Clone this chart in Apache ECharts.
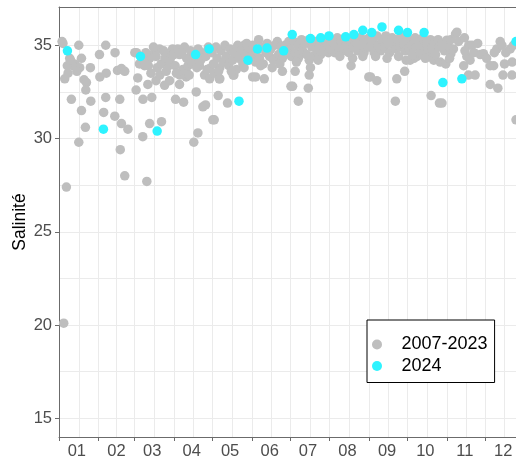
<!DOCTYPE html>
<html>
<head>
<meta charset="utf-8">
<script src="https://cdn.jsdelivr.net/npm/echarts@6/dist/echarts.min.js"></script>
<style>
html,body{margin:0;padding:0;background:#fff;}
#chart{width:516px;height:462px;}
</style>
</head>
<body>
<div id="chart"></div>
<script>
// x = day of year (0 = 1 January), y = salinity
const monthLabels = ['01','02','03','04','05','06','07','08','09','10','11','12'];
const monthStarts = [0,31,59,90,120,151,181,212,243,273,304,334];
const labelDays = [14,45,73,104,134,165,195,226,257,287,318,348];
const yTicks = [15,20,25,30,35];
const yGrid = [15,17.5,20,22.5,25,27.5,30,32.5,35];
const xGrid = [0,15.5,31,45,59,74.5,90,105,120,135.5,151,166,181,196.5,212,227.5,243,258,273,288.5,304,319,334,349];

const histJan = [[2.4,35.2],[3.1,35.1],[15.5,35.0],[8.4,34.3],[17.6,34.3],[12.3,34.0],[11,33.9],[16.2,33.8],[24.6,33.8],[7.1,33.5],[4.5,33.2],[19.6,33.15],[21.5,33.0],[21,32.6],[9.7,32.1],[24.9,32.0],[17.6,31.5],[20.7,30.6],[15.5,29.8],[5.8,27.4],[3.7,20.1],[6.5,33.9],[14,33.6],[9,34.2]];
const histFeb = [[31.7,34.5],[36.6,35.0],[43.9,34.6],[32,33.3],[37,33.5],[45.8,33.65],[48.9,33.75],[51.5,33.6],[36.6,32.2],[47.6,32.1],[35,31.4],[43.7,31.2],[48.9,30.8],[54,30.5],[48,29.4],[51.5,28.0]];
const histMar = [[60.7,34.6],[59.4,34.6],[61.7,33.25],[60.4,32.6],[65.8,32.1],[65.6,30.1],[68.8,27.7],[71,30.8],[80.3,30.9],[72.7,32.2],[69.6,32.9],[76,33.1],[82.7,32.85],[86.6,33.1],[67,33.9],[73.7,34.5],[78.7,34.8],[89,34.8],[71,34.3],[84,34.5],[85,34.1],
  [63,34.0],[66,34.2],[68,34.6],[70,33.9],[74,34.9],[76,34.4],[77,33.8],[80,34.0],[82,34.7],[83,34.3],[86,33.9],[88,34.4],[72,33.5],[79,33.4],[84,33.6],[87,34.1]];
const histApr = [[94.4,34.5],[98.3,34.9],[105,34.1],[110,33.9],[118,33.75],[94.4,32.9],[99.6,33.3],[99.6,33.6],[91.3,32.1],[97.6,31.95],[107.5,32.5],[112.7,31.7],[114.8,31.8],[120.5,31.0],[108.8,30.3],[105.6,29.8],[94.7,33.4],[114,33.4],[118,33.2],
  [90,34.5],[91,33.9],[93,34.8],[96,34.6],[97,33.7],[100,34.3],[101,33.9],[103,34.7],[104,34.0],[106,34.5],[108,33.8],[109,34.8],[111,34.2],[112,34.6],[115,34.4],[117,34.9],[92,33.5],[102,33.4],[116,33.7]];
const histMay = [[121.6,33.5],[125.5,33.2],[137,33.4],[124.7,32.3],[132,31.9],[121.6,31.0],[126,33.2],[136.5,33.4],[145,35.0],
  [120,34.6],[121,34.0],[123,34.9],[124,34.3],[126,33.8],[127,34.7],[129,34.1],[130,35.0],[131,34.4],[133,33.9],[134,34.8],[136,34.2],[137,34.6],[139,33.7],[140,35.0],[141,34.3],[143,34.7],[144,34.0],[146,34.5],[147,35.1],[149,34.2],[150,34.8],[125,33.6],[135,33.6],[145,33.8]];
const histJun = [[151.7,33.3],[154,33.3],[160.8,33.2],[175,33.6],[156.4,35.3],[171,35.2],
  [151,34.4],[152,35.0],[154,34.1],[155,34.7],[157,34.3],[159,34.9],[160,34.0],[162,34.6],[163,35.1],[165,34.4],[166,34.8],[168,34.2],[169,35.0],[172,34.5],[174,34.9],[175,34.3],[177,35.0],[178,34.6],[180,35.2],[158,33.9],[167,33.8],[173,34.0]];
const histJul = [[181.7,32.8],[183,32.8],[187.5,34.3],[197,33.8],[196,33.4],[195.3,32.7],[187.5,32.0],[185,33.6],[196,34.2],
  [181,34.8],[182,34.4],[184,35.2],[185,34.6],[187,35.0],[188,34.5],[190,35.3],[191,34.7],[193,35.1],[194,34.5],[196,35.3],[198,34.9],[199,34.4],[201,35.2],[202,34.7],[204,35.0],[205,34.5],[207,35.3],[208,34.8],[210,35.1],[211,34.6],[186,34.1],[203,34.2]];
const histAug = [[228.8,33.9],[242.7,33.3],[230,34.3],
  [212,35.3],[213,34.8],[215,35.1],[216,34.6],[218,35.4],[219,34.9],[221,35.2],[222,34.7],[224,35.4],[225,35.0],[227,34.6],[228,35.3],[230,34.9],[231,35.5],[233,35.1],[234,34.7],[236,35.4],[237,35.0],[239,34.6],[240,35.3],[242,34.9],[220,34.4],[238,34.4]];
const histSep = [[249,33.1],[264.6,33.2],[270.8,33.6],[263.5,32.0],[244,33.3],
  [243,35.4],[244,34.9],[246,35.2],[247,34.6],[249,35.5],[250,35.0],[252,34.7],[253,35.3],[255,34.9],[256,35.5],[258,35.1],[259,34.6],[261,35.4],[262,35.0],[264,34.8],[265,35.3],[267,34.9],[268,35.5],[270,35.1],[271,34.7],[248,34.4],[257,34.3],[266,34.4],[272,34.2]];
const histOct = [[275,34.2],[280.5,34.4],[278,34.3],[293.6,34.2],[293,34.3],[291.5,32.3],[298,31.9],[300,31.9],[298.6,34.1],[303,34.0],
  [273,35.3],[274,34.8],[276,35.0],[277,34.5],[279,35.4],[280,34.9],[282,35.2],[283,34.6],[285,35.4],[286,34.9],[288,35.1],[289,34.6],[291,35.3],[292,34.8],[294,35.1],[295,34.5],[297,35.3],[298,34.9],[300,35.1],[302,34.7],[287,34.3]];
const histNov = [[303.8,35.27],[305.4,34.9],[307,35.3],[309,34.8],[310.6,35.6],[311.7,35.7],[313,35.2],[317.6,35.4],[307,34.55],[306,34.3],[317,33.9],[319.5,34.4],[322,34.2],[321,35.0],[323.5,35.0],[325,34.6],[320.8,33.4],[326,33.4],[328,35.1],[330,34.5],[332.5,34.55],[318,34.7]];
const histDec = [[335,34.3],[337.8,33.9],[340.5,33.9],[343,34.8],[345.6,35.2],[347,35.0],[347.8,33.4],[354.8,33.4],[350,34.6],[353.5,34.8],[355,34.1],[337.8,32.9],[343.8,32.7],[358,31.0],[341,34.6],[349,34.0],[356,35.0]];

const points2024 = [[6.6,34.7],[34.8,30.5],[63.8,34.4],[76.9,30.4],[107,34.5],[117.6,34.8],[141,32.0],[148,34.2],[155.5,34.8],[163,34.85],[176,34.7],[182.7,35.57],[197,35.36],[205,35.4],[211.5,35.5],[224.6,35.45],[231,35.57],[238,35.8],[245,35.68],[253,35.98],[266,35.8],[273,35.68],[286,35.68],[300.7,33.0],[315.6,33.2],[358,35.2]];

const hist = [].concat(histJan,histFeb,histMar,histApr,histMay,histJun,histJul,histAug,histSep,histOct,histNov,histDec);

const chart = echarts.init(document.getElementById('chart'), null, {renderer:'canvas'});
const FONT = '"Liberation Sans", Arial, sans-serif';
const gridColor = '#ebebeb';
const axisColor = '#6b6b6b';
chart.setOption({
  animation: false,
  backgroundColor: '#ffffff',
  textStyle: {fontFamily: FONT},
  grid: {left: 59, top: 7, right: 0, bottom: 25, containLabel: false, outerBoundsMode: 'none'},
  xAxis: [
    {
      type: 'value', min: 0, max: 358, position: 'bottom',
      axisLine: {show: true, onZero: false, lineStyle: {color: axisColor, width: 1}},
      axisTick: {show: true, length: 4, lineStyle: {color: axisColor}, customValues: monthStarts},
      axisLabel: {customValues: labelDays, margin: 6, fontSize: 16.5, color: '#4d4d4d', fontFamily: FONT,
        formatter: function (v) { const i = labelDays.indexOf(v); return i >= 0 ? monthLabels[i] : ''; }},
      splitLine: {show: false}
    },
    {
      type: 'value', min: 0, max: 358, position: 'top',
      axisLine: {show: true, onZero: false, lineStyle: {color: axisColor, width: 1}},
      axisTick: {show: false, customValues: xGrid},
      axisLabel: {show: false, customValues: xGrid},
      splitLine: {show: true, lineStyle: {color: gridColor, width: 1}}
    }
  ],
  yAxis: [
    {
      type: 'value', min: 14.0, max: 37.05, position: 'left',
      name: 'Salinité', nameLocation: 'middle', nameGap: 30, nameRotate: 90, nameMoveOverlap: false,
      nameTextStyle: {fontSize: 17.5, color: '#000', fontFamily: FONT},
      axisLine: {show: true, onZero: false, lineStyle: {color: axisColor, width: 1}},
      axisTick: {show: true, length: 4, lineStyle: {color: axisColor}, customValues: yTicks},
      axisLabel: {customValues: yTicks, margin: 7, fontSize: 16.5, color: '#4d4d4d', fontFamily: FONT},
      splitLine: {show: false}
    },
    {
      type: 'value', min: 14.0, max: 37.05, position: 'right',
      axisLine: {show: false},
      axisTick: {show: false, customValues: yGrid},
      axisLabel: {show: false, customValues: yGrid},
      splitLine: {show: true, lineStyle: {color: gridColor, width: 1}}
    }
  ],
  legend: {
    orient: 'vertical', left: 367, top: 320,
    backgroundColor: '#ffffff', borderColor: '#000000', borderWidth: 1, borderRadius: 0,
    padding: [14, 7, 6, 5], itemGap: 0.5, itemWidth: 25, itemHeight: 10,
    textStyle: {fontSize: 18, color: '#000', fontFamily: FONT, lineHeight: 21, padding: [0, 0, 0, 7]},
    data: [{name: '2007-2023', icon: 'circle'}, {name: '2024', icon: 'circle'}]
  },
  series: [
    {name: '2007-2023', type: 'scatter', xAxisIndex: 0, yAxisIndex: 0, data: hist, symbolSize: 9.5,
      itemStyle: {color: '#bebebe', opacity: 1}, silent: true, z: 2},
    {name: '2024', type: 'scatter', xAxisIndex: 0, yAxisIndex: 0, data: points2024, symbolSize: 9.5,
      itemStyle: {color: '#2ef3ff', opacity: 1}, silent: true, z: 3}
  ]
});
</script>
</body>
</html>
